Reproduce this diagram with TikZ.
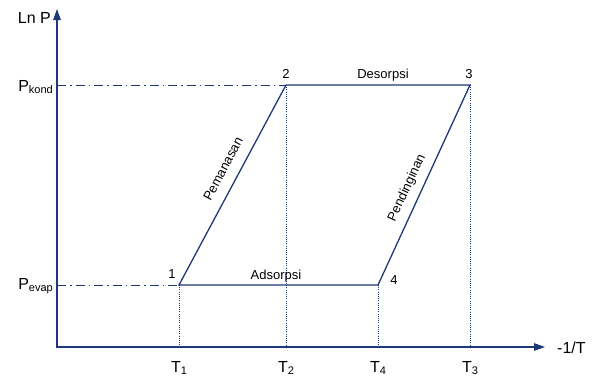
\documentclass[tikz,border=0pt]{standalone}
\usepackage{fontspec}
\setmainfont{Liberation Sans}
\usetikzlibrary{arrows.meta, positioning}
\definecolor{navy1}{RGB}{31, 56, 122}
\newcommand{\lowsub}[1]{\raisebox{-0.35ex}{\fontsize{11}{12}\selectfont #1}}
\tikzset{
  axisline/.style={navy1, line width=1.3pt, line cap=rect, -{Triangle[length=11pt, width=7.5pt]}},
  cycleline/.style={navy1, line width=1.3pt},
  levelline/.style={navy1, line width=1pt, dash pattern=on 9pt off 4pt on 1.5pt off 4pt},
  guideline/.style={navy1, line width=0.7pt, dash pattern=on 1pt off 1.2pt},
  axlabel/.style={font=\fontsize{16}{19}\selectfont, inner sep=0pt},
  ptlabel/.style={font=\fontsize{13}{15}\selectfont, inner sep=0pt},
}

\begin{document}
\begin{tikzpicture}[x=1pt, y=1pt]
  \useasboundingbox (0,0) rectangle (596,376);
  % axes
  \coordinate (o) at (57,29);
  \coordinate (ytip) at (57,367);
  \coordinate (xtip) at (545,29);
  % corners of the cycle
  \coordinate (p1) at (179,91);
  \coordinate (p2) at (286,291);
  \coordinate (p3) at (470,291);
  \coordinate (p4) at (378,91);
  \foreach \p in {1,2,3,4} \coordinate (f\p) at (p\p |- o);

  \foreach \p in {1,2,3,4} \draw[guideline] (p\p) -- (f\p);
  \draw[levelline] (o |- p2) -- (p2);
  \draw[levelline] (o |- p1) -- (p1);
  \draw[cycleline] (p1) -- (p2) -- (p3) -- (p4) -- cycle;
  \draw[axisline] (o) -- (ytip);
  \draw[axisline] (o) -- (xtip);

  % axis labels
  \node[axlabel, anchor=east] (lnp) at (51,358) {Ln P};
  \node[axlabel, anchor=base west] (invt) at (557,23) {-1/T};
  \node[axlabel, anchor=base east] (pkond) at (53,285) {P\lowsub{kond}};
  \node[axlabel, anchor=base east] (pevap) at (53,87) {P\lowsub{evap}};
  \foreach \p/\t in {1/1,2/2,3/3,4/4}
    \node[axlabel, anchor=base] (t\p) at (f\p |- 0,4) {T\lowsub{\t}};

  % state labels
  \node[ptlabel, anchor=base] (n1) at (172,98) {1};
  \node[ptlabel, anchor=base] (n2) at (286,298) {2};
  \node[ptlabel, anchor=base] (n3) at (469,298) {3};
  \node[ptlabel, anchor=base] (n4) at (394,92) {4};
  \node[ptlabel, anchor=base] (des) at (383,298) {Desorpsi};
  \node[ptlabel, anchor=base] (ads) at (276,97) {Adsorpsi};
  \node[ptlabel, rotate=62] (pem) at (223,207) {Pemanasan};
  \node[ptlabel, rotate=65] (pen) at (407,188) {Pendinginan};
\end{tikzpicture}
\end{document}
